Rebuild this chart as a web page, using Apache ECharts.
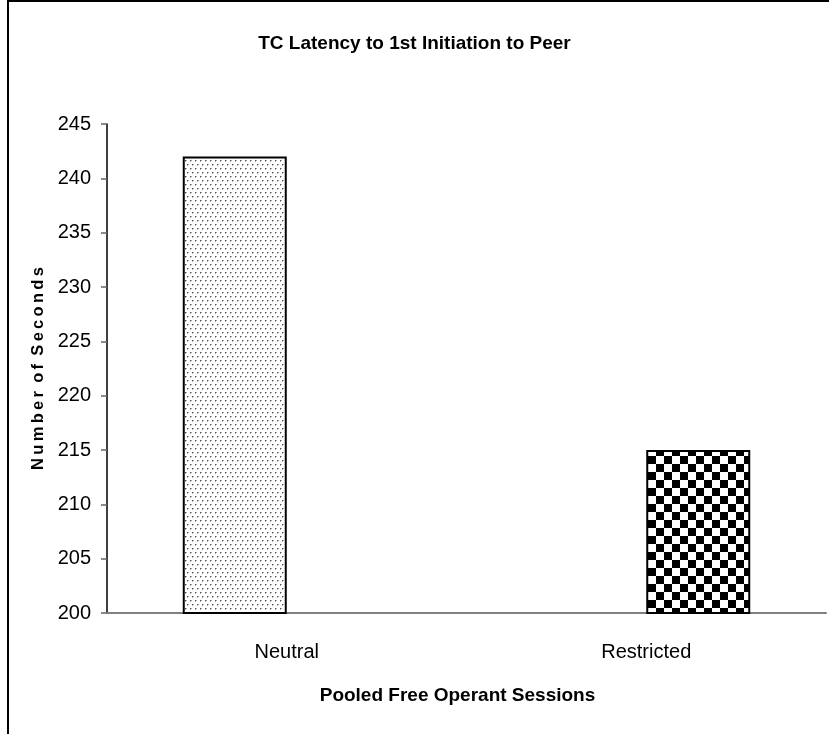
<!DOCTYPE html>
<html>
<head>
<meta charset="utf-8">
<script src="https://cdn.jsdelivr.net/npm/echarts@6/dist/echarts.min.js"></script>
<style>
    html, body { margin: 0; padding: 0; background: #fff; }
    #chart { width: 829px; height: 734px; }
</style>
</head>
<body>
<div id="chart"></div>
<script>
    // chart data
    var categories = ['Neutral', 'Restricted'];
    var neutralValues = [242, null];
    var restrictedValues = [null, 215];
    var yMin = 200, yMax = 245, yStep = 5;

    var FONT = "'Liberation Sans', Arial, sans-serif";

    // fill patterns like the old excel ones
    function dotPattern(){
        var c = document.createElement('canvas');
        c.width = 5; c.height = 8;
        var ctx = c.getContext('2d');
        ctx.fillStyle = '#fff';
        ctx.fillRect(0, 0, 5, 8);
        ctx.fillStyle = '#555';
        ctx.fillRect(0, 0, 1, 1);
        ctx.fillRect(2, 4, 1, 1);
        ctx.fillStyle = '#aaa';
        ctx.fillRect(1, 0, 1, 1);
        ctx.fillRect(0, 1, 1, 1);
        ctx.fillRect(3, 4, 1, 1);
        ctx.fillRect(2, 5, 1, 1);
        return c;
    }
    function checkPattern(){
        var c = document.createElement('canvas');
        c.width = 16; c.height = 16;
        var ctx = c.getContext('2d');
        ctx.fillStyle = '#fff';
        ctx.fillRect(0, 0, 16, 16);
        ctx.fillStyle = '#000';
        ctx.fillRect(0, 0, 8, 8);
        ctx.fillRect(8, 8, 8, 8);
        return c;
    }

    // spaced out letters for the y axis title
    function spaced(txt){
        return txt.split(' ').map(function(w){ return w.split('').join('\u2009'); }).join('\u2002');
    }

    var myChart = echarts.init(document.getElementById('chart'));
    var option = {
        backgroundColor: '#fff',
        animation: false,
        title: {
            text: 'TC Latency to 1st Initiation to Peer',
            left: 'center',
            top: 29,
            textStyle: {fontFamily: FONT, fontSize: 19, fontWeight: 'bold', color: '#000'}
        },
        grid: {left: 107, right: 3, top: 124, bottom: 121},
        xAxis: {
            type: 'category',
            data: categories,
            name: 'Pooled Free Operant Sessions',
            nameLocation: 'middle',
            nameGap: 73,
            nameTextStyle: {fontFamily: FONT, fontSize: 19, fontWeight: 'bold', color: '#000', padding: [0, 18, 0, 0]},
            axisLine: {lineStyle: {color: '#808080', width: 2}},
            axisTick: {length: 6, lineStyle: {color: '#808080', width: 1.5}},
            axisLabel: {fontFamily: FONT, fontSize: 20, color: '#000', margin: 29},
            splitLine: {show: false}
        },
        yAxis: {
            type: 'value',
            min: yMin,
            max: yMax,
            interval: yStep,
            name: spaced('Number of Seconds'),
            nameLocation: 'middle',
            nameGap: 53,
            nameTextStyle: {fontFamily: FONT, fontSize: 16.5, fontWeight: 'bold', color: '#000'},
            axisLine: {show: true, lineStyle: {color: '#000', width: 1.5}},
            axisTick: {show: true, length: 6, lineStyle: {color: '#666', width: 1.5}},
            axisLabel: {fontFamily: FONT, fontSize: 20, color: '#000', margin: 16},
            splitLine: {show: false}
        },
        series: [
            {
                name: 'Neutral',
                type: 'bar',
                data: neutralValues,
                barWidth: 104,
                barGap: 0,
                itemStyle: {
                    color: {image: dotPattern(), repeat: 'repeat'},
                    borderColor: '#000',
                    borderWidth: 2
                }
            },
            {
                name: 'Restricted',
                type: 'bar',
                data: restrictedValues,
                barWidth: 104,
                barGap: 0,
                itemStyle: {
                    color: {image: checkPattern(), repeat: 'repeat'},
                    borderColor: '#000',
                    borderWidth: 2
                }
            }
        ],
        graphic: [
            {type: 'polyline', shape: {points: [[8, 734], [8, 1], [829, 1]]}, style: {stroke: '#000', lineWidth: 2, fill: null}}
        ]
    };
    myChart.setOption(option);
</script>
</body>
</html>
